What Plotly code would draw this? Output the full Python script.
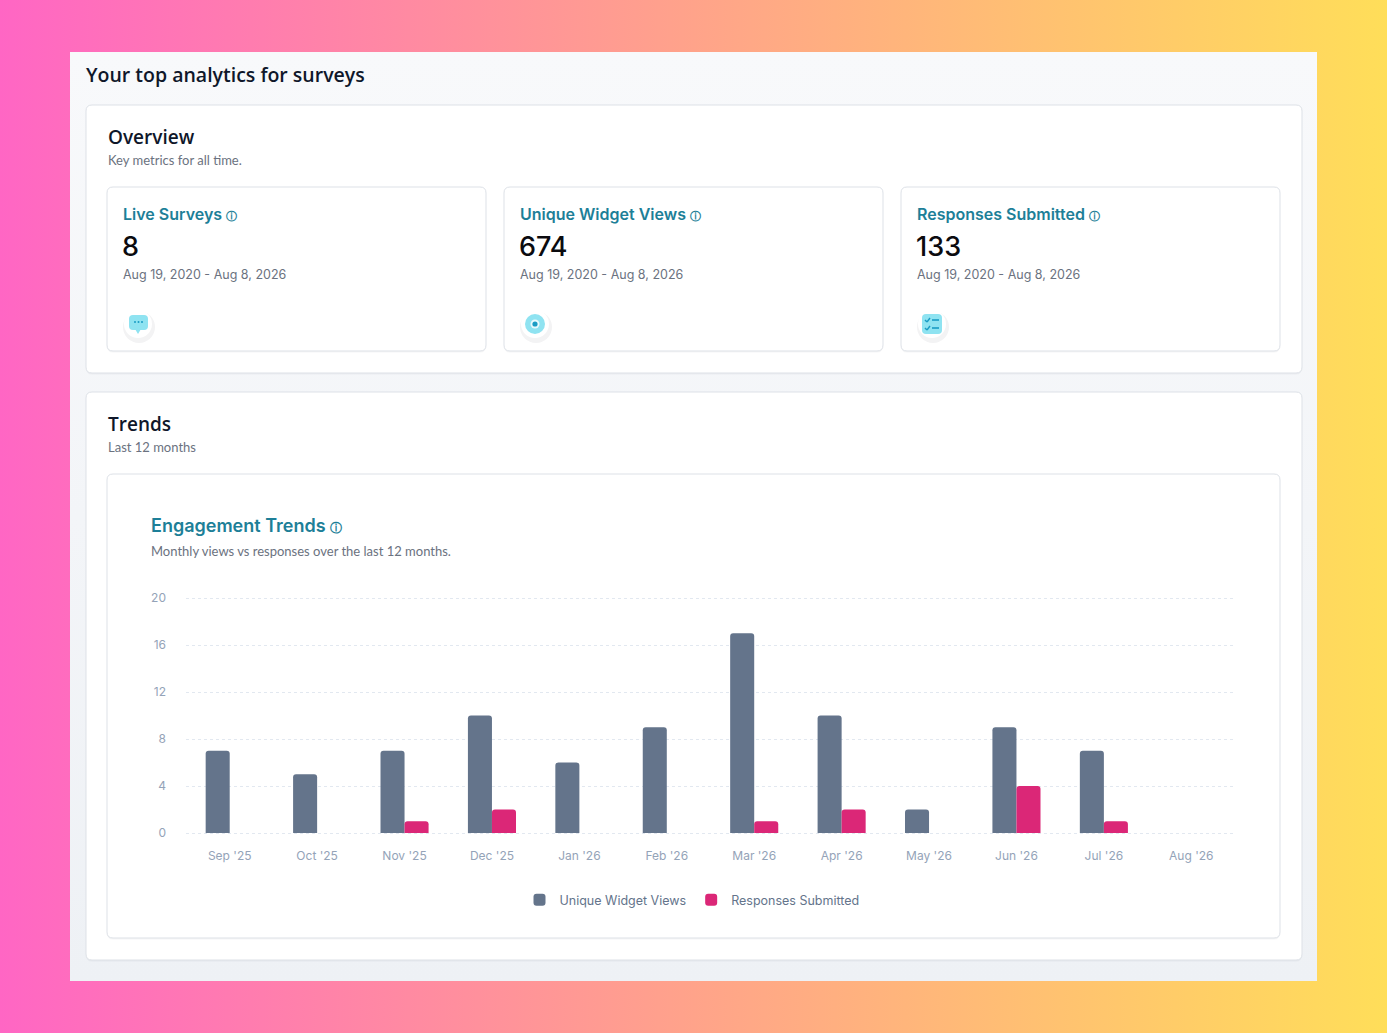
import base64

import plotly.graph_objects as go

# ---- data -------------------------------------------------------------
months = ["Sep '25", "Oct '25", "Nov '25", "Dec '25", "Jan '26", "Feb '26",
          "Mar '26", "Apr '26", "May '26", "Jun '26", "Jul '26", "Aug '26"]
widget_views = [7, 5, 7, 10, 6, 9, 17, 10, 2, 9, 7, 0]
responses = [0, 0, 1, 2, 0, 0, 1, 2, 0, 4, 1, 0]
y_ticks = [0, 4, 8, 12, 16, 20]

kpi_titles = ["Live Surveys", "Unique Widget Views", "Responses Submitted"]
kpi_values = ["8", "674", "133"]
kpi_range = "Aug 19, 2020 - Aug 8, 2026"

W, H = 1387, 1033
TEAL = "#1D7F98"
GRAY_TXT = "#6B7280"
AXIS_TXT = "#94A3B8"
HEAD_FONT = "Open Sans"
SUB_FONT = "Lato"
BODY_FONT = "Inter"


def px(x):
    return x / W


def py(y):
    return 1 - y / H


def rrect(x0, y0, x1, y1, r):
    """Rounded rect path in paper coords, given pixel box."""
    rx, ry = r / W, r / H
    a, b, c, d = px(x0), py(y1), px(x1), py(y0)  # left, bottom, right, top
    return (f"M{a + rx},{d} L{c - rx},{d} Q{c},{d} {c},{d - ry} "
            f"L{c},{b + ry} Q{c},{b} {c - rx},{b} L{a + rx},{b} "
            f"Q{a},{b} {a},{b + ry} L{a},{d - ry} Q{a},{d} {a + rx},{d} Z")


shapes = []


def card(x0, y0, x1, y1, r=6, fill="white", line="#DDE1E7"):
    shapes.append(dict(type="path", path=rrect(x0, y0 + 1.5, x1, y1 + 1.5, r),
                       xref="paper", yref="paper", fillcolor="rgba(15,23,42,0.04)",
                       line=dict(width=0), layer="below"))
    shapes.append(dict(type="path", path=rrect(x0, y0, x1, y1, r),
                       xref="paper", yref="paper", fillcolor=fill,
                       line=dict(color=line, width=1), layer="below"))


def circle(cx, cy, r, fill, layer="above", line=None):
    shapes.append(dict(type="circle", xref="paper", yref="paper",
                       x0=px(cx - r), x1=px(cx + r), y0=py(cy + r), y1=py(cy - r),
                       fillcolor=fill, line=line or dict(width=0), layer=layer))


def seg(x0, y0, x1, y1, color, width=1.6):
    shapes.append(dict(type="line", xref="paper", yref="paper",
                       x0=px(x0), y0=py(y0), x1=px(x1), y1=py(y1),
                       line=dict(color=color, width=width)))


# background: horizontal gradient + panel with soft vertical gradient
svg = f"""<svg xmlns='http://www.w3.org/2000/svg' width='{W}' height='{H}'>
<defs>
<linearGradient id='g' x1='0' y1='0' x2='1' y2='0'>
<stop offset='0' stop-color='#FF66C4'/><stop offset='0.5' stop-color='#FFA38A'/>
<stop offset='1' stop-color='#FFDE59'/></linearGradient>
<linearGradient id='p' x1='0' y1='0' x2='0' y2='1'>
<stop offset='0' stop-color='#F8F9FB'/><stop offset='1' stop-color='#EEF1F5'/></linearGradient>
</defs>
<rect width='{W}' height='{H}' fill='url(#g)'/>
<rect x='70' y='52' width='1247' height='929' fill='url(#p)'/>
</svg>"""
svg_uri = "data:image/svg+xml;base64," + base64.b64encode(svg.encode()).decode()

# cards
card(86, 105, 1302, 373)
card(86, 392, 1302, 960)
card(107, 474, 1280, 938)
kpi_x = [107, 504, 901]
for x in kpi_x:
    card(x, 187, x + 379, 351)

annotations = []


def text(x, y, s, size, color, family=BODY_FONT, weight=400, anchor="left"):
    annotations.append(dict(x=px(x), y=py(y), xref="paper", yref="paper", text=s,
                            showarrow=False, xanchor=anchor, yanchor="middle",
                            font=dict(family=family, size=size, color=color, weight=weight)))


text(84, 74, "Your top analytics for surveys", 19.5, "#0F172A", HEAD_FONT, 600)
text(106, 137, "Overview", 19, "#0F172A", HEAD_FONT, 600)
text(106, 160, "Key metrics for all time.", 13, GRAY_TXT, SUB_FONT)
text(106, 424, "Trends", 19, "#0F172A", HEAD_FONT, 600)
text(106, 447, "Last 12 months", 13, GRAY_TXT, SUB_FONT)
text(149, 525, "Engagement Trends <span style='font-size:12px'>ⓘ</span>", 18, TEAL,
     BODY_FONT, 600)
text(149, 551, "Monthly views vs responses over the last 12 months.", 13, GRAY_TXT,
     SUB_FONT)

for x, t, v in zip(kpi_x, kpi_titles, kpi_values):
    text(x + 14, 214, f"{t} <span style='font-size:11px'>ⓘ</span>", 16, TEAL,
         BODY_FONT, 600)
    text(x + 13, 246, v, 27, "#0B0B0F", BODY_FONT, 500)
    text(x + 14, 274, kpi_range, 12.5, GRAY_TXT, BODY_FONT)
    # icon holder with soft shadow
    cx = x + 31
    circle(cx + 1, 327, 16, "rgba(15,23,42,0.05)")
    circle(cx, 324, 14, "white")

CYAN = "#8FE3F1"
DARK = "#1A9CC4"
# chat bubble
shapes.append(dict(type="path", path=rrect(129, 315, 148, 330, 4), xref="paper",
                   yref="paper", fillcolor=CYAN, line=dict(width=0)))
shapes.append(dict(type="path", xref="paper", yref="paper", fillcolor=CYAN,
                   line=dict(width=0),
                   path=f"M{px(135)},{py(329)} L{px(138)},{py(334)} L{px(141)},{py(329)} Z"))
for dx in (-3.5, 0, 3.5):
    circle(138.5 + dx, 322, 1, DARK)
# eye
circle(535, 324, 10, CYAN)
circle(535, 324, 4.5, "#E8FAFD")
circle(535, 324, 2.6, DARK)
# checklist
shapes.append(dict(type="path", path=rrect(922, 314, 942, 334, 4), xref="paper",
                   yref="paper", fillcolor=CYAN, line=dict(width=0)))
seg(925, 320, 927, 322, DARK, 1.4)
seg(927, 322, 930, 318, DARK, 1.4)
seg(925, 328, 927, 330, DARK, 1.4)
seg(927, 330, 930, 326, DARK, 1.4)
seg(932, 320, 939, 320, DARK, 1.6)
seg(932, 328, 939, 328, DARK, 1.6)

# ---- figure -----------------------------------------------------------
fig = go.Figure()
fig.add_trace(go.Bar(x=months, y=widget_views, name="Unique Widget Views",
                     marker=dict(color="#64748B", line=dict(width=0))))
fig.add_trace(go.Bar(x=months, y=responses, name="Responses Submitted",
                     marker=dict(color="#DB2777", line=dict(width=0))))

fig.update_layout(
    width=W, height=H,
    margin=dict(l=0, r=0, t=0, b=0, autoexpand=False),
    paper_bgcolor="white",
    plot_bgcolor="rgba(0,0,0,0)",
    barmode="group",
    bargap=0.45,
    bargroupgap=0,
    barcornerradius=3,
    font=dict(family=BODY_FONT, color=AXIS_TXT),
    xaxis=dict(domain=[px(186), px(1235)], showgrid=False, zeroline=False,
               showline=False, ticks="", tickfont=dict(size=12, color=AXIS_TXT),
               ticklabelstandoff=12, fixedrange=True, automargin=False),
    # small padding so the 0 and 20 gridlines are not clipped at the edges
    yaxis=dict(domain=[py(835), py(596)], range=[-0.17, 20.17], tickvals=y_ticks,
               showgrid=True, gridcolor="#E2E8F0", griddash="3px,3px", gridwidth=1,
               zeroline=False, showline=False, ticks="",
               tickfont=dict(size=12, color=AXIS_TXT), ticklabelstandoff=19,
               fixedrange=True, automargin=False),
    legend=dict(orientation="h", x=px(692), xanchor="center", y=py(900),
                yanchor="middle", font=dict(size=12.5, color="#64748B"),
                itemclick=False, bgcolor="rgba(0,0,0,0)", tracegroupgap=0),
    showlegend=True,
    images=[dict(source=svg_uri, xref="paper", yref="paper", x=0, y=1, sizex=1,
                 sizey=1, sizing="stretch", layer="below", xanchor="left",
                 yanchor="top")],
    shapes=shapes,
    annotations=annotations,
)

pin_page = """
var gd = document.getElementById('{plot_id}');
document.documentElement.style.margin = '0';
document.body.style.margin = '0';
document.documentElement.style.overflow = 'hidden';
document.body.style.overflow = 'hidden';
gd.style.position = 'fixed';
gd.style.left = '0';
gd.style.top = '0';
"""

fig.write_html("out.html", config={"displayModeBar": False}, post_script=pin_page)
